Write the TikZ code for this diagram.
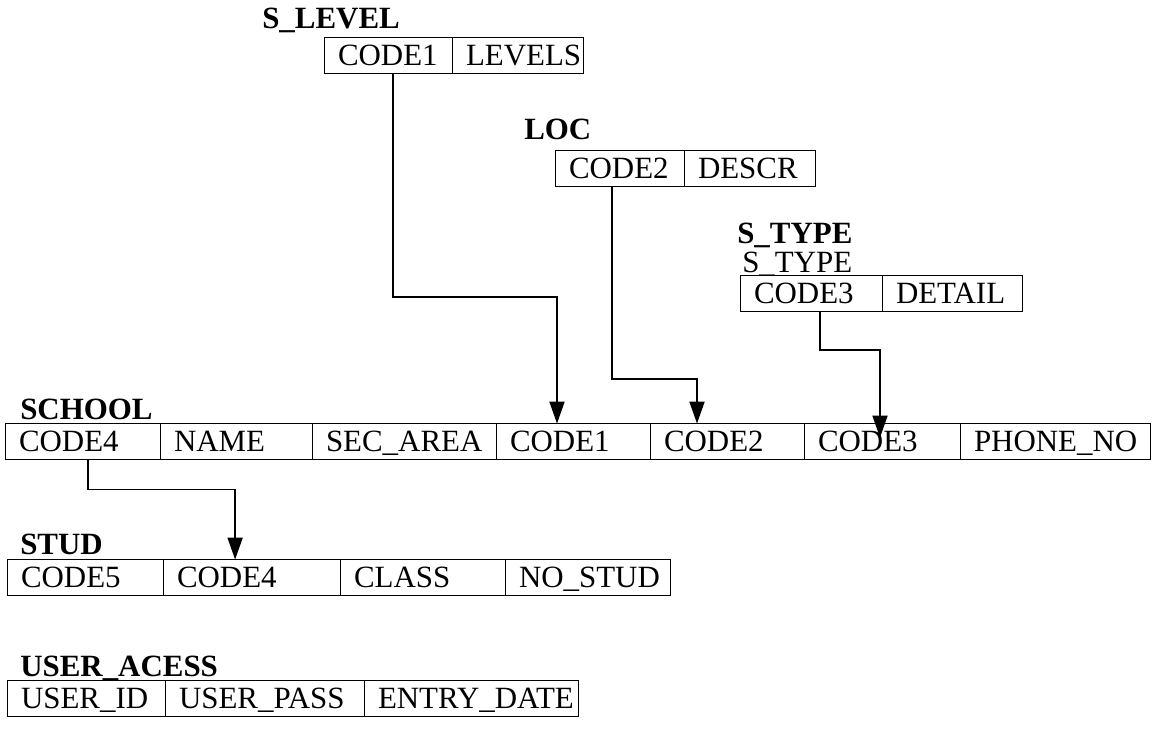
\documentclass[tikz,border=0pt]{standalone}
\usepackage{fontspec}
\setmainfont{Liberation Serif}
\usepackage{tikz}
\usetikzlibrary{positioning, arrows.meta}

\begin{document}
\begin{tikzpicture}[node distance=0pt, every node/.style={font=\fontsize{22}{26}\selectfont},
    cell/.style={draw, line width=0.6pt, rectangle, outer sep=0pt, inner xsep=0.35cm, inner ysep=0pt, align=left, minimum height=0.9cm, text height=0.5cm, text depth=0pt},
    ttl/.style={anchor=base west, inner sep=0pt, font=\fontsize{22}{26}\selectfont\bfseries},
    fk/.style={line width=1pt, -{Triangle[length=0.55cm, width=0.38cm]}}]
    \useasboundingbox (0,0) rectangle (28.875,-18.2);

    % S_LEVEL
    \node [ttl] (tlev) at (6.55,-0.7) {S\_LEVEL};
    \node [cell, text width=2.5cm, anchor=west] (lev1) at (8.1,-1.375) {CODE1};
    \node [cell, text width=2.575cm, right=of lev1] (lev2) {LEVELS};

    % LOC
    \node [ttl] (tloc) at (13.1,-3.475) {LOC};
    \node [cell, text width=2.525cm, anchor=west] (loc1) at (13.875,-4.2) {CODE2};
    \node [cell, text width=2.575cm, right=of loc1] (loc2) {DESCR};

    % S_TYPE
    \node [ttl] (ttyp) at (18.425,-6.075) {S\_TYPE};
    \node [anchor=base west, inner sep=0pt] (ttyp2) at (18.55,-6.8) {S\_TYPE};
    \node [cell, text width=2.85cm, anchor=west] (typ1) at (18.5,-7.325) {CODE3};
    \node [cell, text width=2.8cm, right=of typ1] (typ2) {DETAIL};

    % SCHOOL
    \node [ttl] (tsch) at (0.5,-10.475) {SCHOOL};
    \node [cell, text width=3.175cm, anchor=west] (sch1) at (0.125,-11.0375) {CODE4};
    \node [cell, text width=3.1cm, right=of sch1] (sch2) {NAME};
    \node [cell, text width=3.9cm, right=of sch2] (sch3) {SEC\_AREA};
    \node [cell, text width=3.15cm, right=of sch3] (sch4) {CODE1};
    \node [cell, text width=3.15cm, right=of sch4] (sch5) {CODE2};
    \node [cell, text width=3.2cm, right=of sch5] (sch6) {CODE3};
    \node [cell, text width=4.05cm, right=of sch6] (sch7) {PHONE\_NO};

    % STUD
    \node [ttl] (tstu) at (0.5,-13.85) {STUD};
    \node [cell, text width=3.2cm, anchor=west] (stu1) at (0.175,-14.4375) {CODE5};
    \node [cell, text width=3.725cm, right=of stu1] (stu2) {CODE4};
    \node [cell, text width=3.425cm, right=of stu2] (stu3) {CLASS};
    \node [cell, text width=3.425cm, right=of stu3] (stu4) {NO\_STUD};

    % USER_ACESS
    \node [ttl] (tusr) at (0.5,-16.9) {USER\_ACESS};
    \node [cell, text width=3.25cm, anchor=west] (usr1) at (0.175,-17.4625) {USER\_ID};
    \node [cell, text width=4.275cm, right=of usr1] (usr2) {USER\_PASS};
    \node [cell, text width=4.65cm, right=of usr2] (usr3) {ENTRY\_DATE};

    % foreign keys
    \draw [fk] ([xshift=0.125cm]lev1.south) -- ++(0,-5.6) -| ([xshift=-0.4cm]sch4.north);
    \draw [fk] ([xshift=-0.19cm]loc1.south) -- ++(0,-4.825) -| ([xshift=-0.75cm]sch5.north);
    \draw [fk] ([xshift=0.225cm]typ1.south) -- ++(0,-0.975) -| ([xshift=-0.05cm,yshift=-0.35cm]sch6.north);
    \draw [fk] ([xshift=0.14cm]sch1.south) -- ++(0,-0.75) -| ([xshift=-0.41cm]stu2.north);
\end{tikzpicture}
\end{document}
